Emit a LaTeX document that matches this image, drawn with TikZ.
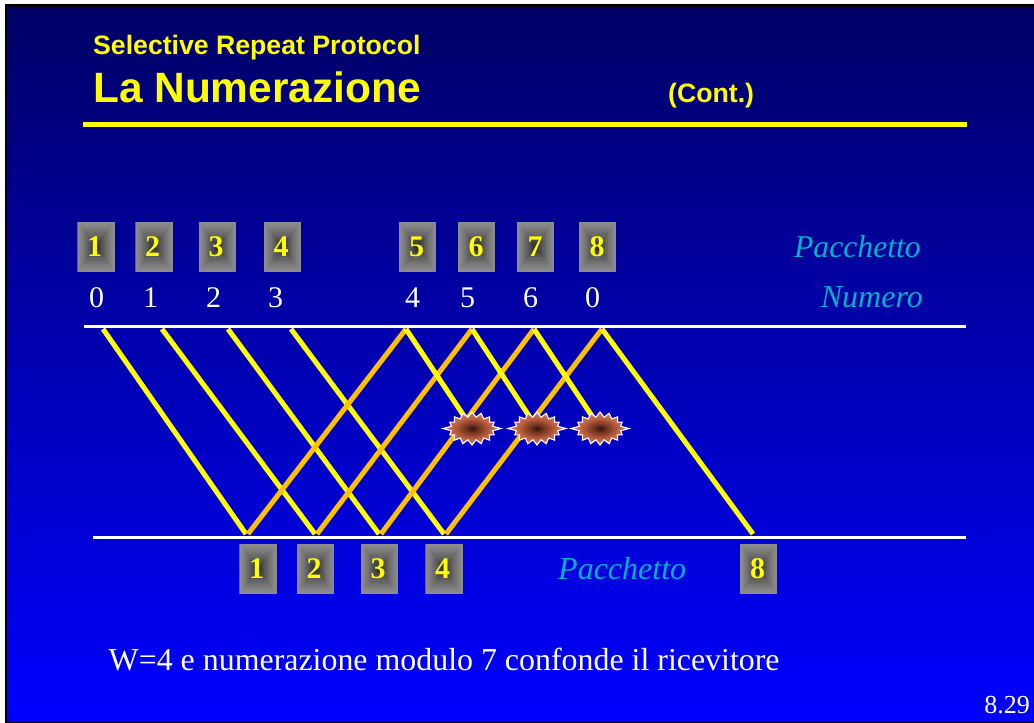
\documentclass[tikz,border=0pt]{standalone}
\usepackage{fontspec}
\setmainfont{Liberation Serif}
\newfontfamily\arialf{Liberation Sans}
\usetikzlibrary{calc}
\definecolor{pktyellow}{HTML}{FFFF00}
\definecolor{ackgold}{HTML}{FFC000}
\definecolor{labelteal}{HTML}{00B2C8}
\definecolor{bgtop}{HTML}{000066}
\definecolor{bgbottom}{HTML}{0000FF}
\definecolor{boxedge}{HTML}{8C8C8C}
\definecolor{boxcore}{HTML}{2A2A2A}
\definecolor{burstA}{HTML}{33140A}
\definecolor{burstB}{HTML}{74351F}
\definecolor{burstC}{HTML}{BF6242}
\definecolor{burstD}{HTML}{EC855E}
\pgfdeclareradialshading{burstshade}{\pgfpointorigin}{%
  color(0bp)=(burstA);
  color(6bp)=(burstB);
  color(16bp)=(burstC);
  color(30bp)=(burstD);
  color(50bp)=(burstD)}
\tikzset{
  x=1pt,y=-1pt,
  pktbox/.style={
    minimum width=37.5pt,minimum height=50pt,inner sep=0pt,outer sep=0pt,
    font=\fontsize{30}{30}\selectfont\bfseries,text=pktyellow,
    path picture={
      \foreach \i in {0,...,23}{
        \pgfmathsetmacro{\frac}{\i/24}
        \pgfmathsetmacro{\mixv}{100-100*(\i/23)^1.4}
        \fill[boxedge!\mixv!boxcore]
          ($(path picture bounding box.south west)!\frac!(path picture bounding box.center)$)
          rectangle
          ($(path picture bounding box.north east)!\frac!(path picture bounding box.center)$);
      }
    }},
  seqnum/.style={font=\fontsize{30}{30}\selectfont,text=white,inner sep=0pt},
  tealtext/.style={font=\fontsize{32}{32}\selectfont\itshape,text=labelteal,inner sep=0pt},
  headtext/.style={text=pktyellow,inner sep=0pt,anchor=base west},
  whiteline/.style={draw=white,line width=3pt},
  dataline/.style={draw=pktyellow,line width=5pt},
  ackline/.style={draw=ackgold,line width=5pt},
  burst/.style={draw=white,line width=1.1pt,shading=burstshade},
}
\newcommand{\burstat}[2]{%
  \path[burst,shade] plot[samples at={0,...,31},variable=\t]
    ({#1+(mod(\t,2)==0?(mod(\t,16)==0?29:(mod(\t,4)==0?25:24)):21)*cos(\t*11.25)},
     {#2+(mod(\t,2)==0?16.5:11.5)*sin(\t*11.25)}) -- cycle;}
\begin{document}
\begin{tikzpicture}
\useasboundingbox (0,0) rectangle (1034,723);
\fill[white] (0,0) rectangle (1034,723);
\fill[black] (5,4) rectangle (1034,723);
\shade[top color=bgtop,bottom color=bgbottom] (7,7) rectangle (1034,721);

% heading
\node[headtext,font=\arialf\bfseries\fontsize{26.65}{27}\selectfont] (sub) at (93,54) {Selective Repeat Protocol};
\node[headtext,font=\arialf\bfseries\fontsize{42.4}{43}\selectfont] (title) at (93,102) {La Numerazione};
\node[headtext,font=\arialf\bfseries\fontsize{26.65}{27}\selectfont] (cont) at (668,102) {(Cont.)};
\coordinate (hl) at (83,124); \coordinate (hr) at (967,124);
\draw[pktyellow,line width=5pt] (hl) -- (hr);

% time lines
\coordinate (tl) at (84,326); \coordinate (tr) at (966,326);
\coordinate (bl) at (93,537); \coordinate (br) at (966,537);
\draw[whiteline] (tl) -- (tr);
\draw[whiteline] (bl) -- (br);

% end points on the sender and receiver
\coordinate (s1) at (103,329); \coordinate (s2) at (162,329);
\coordinate (s3) at (228,329); \coordinate (s4) at (291,329);
\coordinate (s5) at (406,329); \coordinate (s6) at (472,329);
\coordinate (s7) at (534,329); \coordinate (s8) at (602,329);
\coordinate (r1) at (246,534); \coordinate (r2) at (315,534);
\coordinate (r3) at (379,534); \coordinate (r4) at (444,534);
\coordinate (a1) at (248,534); \coordinate (a2) at (317,534);
\coordinate (a3) at (381,534); \coordinate (a4) at (446,534);
\coordinate (r8) at (753,534);
\coordinate (x5) at (472,428); \coordinate (x6) at (537,428); \coordinate (x7) at (600,428);

\draw[dataline] (s1) -- (r1);
\draw[dataline] (s2) -- (r2);
\draw[dataline] (s3) -- (r3);
\draw[dataline] (s4) -- (r4);
\draw[ackline] (a1) -- (s5);
\draw[ackline] (a2) -- (s6);
\draw[ackline] (a3) -- (s7);
\draw[ackline] (a4) -- (s8);
\draw[dataline] (s5) -- (x5);
\draw[dataline] (s6) -- (x6);
\draw[dataline] (s7) -- (x7);
\draw[dataline] (s8) -- (r8);

\burstat{472}{428.5}
\burstat{537}{428.5}
\burstat{600}{428.5}

% packets sent
\node[pktbox] (p1) at (96,247) {\kern-3pt 1};
\node[pktbox] (p2) at (154,247) {\kern-3pt 2};
\node[pktbox] (p3) at (217.5,247) {\kern-3pt 3};
\node[pktbox] (p4) at (282.5,247) {\kern-3pt 4};
\node[pktbox] (p5) at (417.5,247) {\kern-2pt 5};
\node[pktbox] (p6) at (476.5,247) {\kern-1pt 6};
\node[pktbox] (p7) at (535.5,247) {\kern-1pt 7};
\node[pktbox] (p8) at (597.5,247) {\kern-1pt 8};
% sequence numbers
\node[seqnum] (n1) at (96.5,297.5) {0};
\node[seqnum] (n2) at (150.5,297.5) {1};
\node[seqnum] (n3) at (213.5,297.5) {2};
\node[seqnum] (n4) at (275.5,297.5) {3};
\node[seqnum] (n5) at (412.5,297.5) {4};
\node[seqnum] (n6) at (467.5,297.5) {5};
\node[seqnum] (n7) at (530.5,297.5) {6};
\node[seqnum] (n8) at (592.5,297.5) {0};
% packets received
\node[pktbox] (q1) at (258,569) {\kern-3pt 1};
\node[pktbox] (q2) at (315.5,569) {\kern-3pt 2};
\node[pktbox] (q3) at (379.5,569) {\kern-3pt 3};
\node[pktbox] (q4) at (444,569) {\kern-3pt 4};
\node[pktbox] (q8) at (758.5,569) {\kern-2pt 8};

\node[tealtext,anchor=base east,font=\fontsize{31.7}{32}\selectfont\itshape] (l1) at (921,257) {Pacchetto};
\node[tealtext,anchor=base east] (l2) at (923,307) {Numero};
\node[tealtext,anchor=base west] (l3) at (558,579) {Pacchetto};

\node[inner sep=0pt,anchor=base west,text=white,font=\fontsize{31.9}{32}\selectfont] (cap) at (108.5,670) {W=4 e numerazione modulo 7 confonde il ricevitore};
\node[inner sep=0pt,anchor=base east,text=white,font=\fontsize{26}{26}\selectfont] (pg) at (1030,713) {8.29};
\end{tikzpicture}
\end{document}
